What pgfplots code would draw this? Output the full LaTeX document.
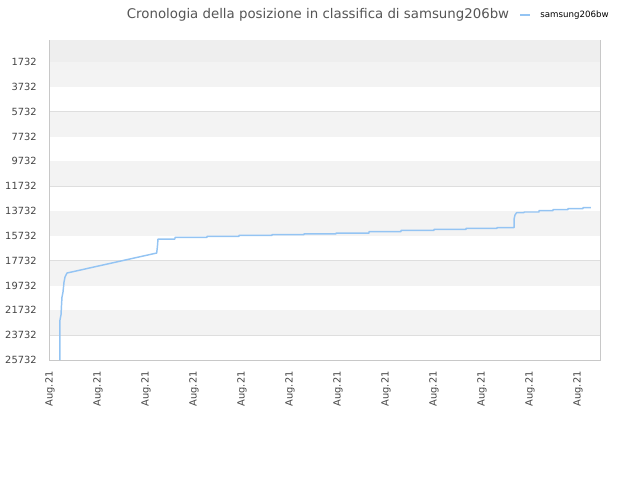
\documentclass[border=0pt]{standalone}
\usepackage{pgfplots}
\pgfplotsset{compat=1.18}
\usepackage{fontspec}
\setmainfont{DejaVu Sans}
\definecolor{linecol}{RGB}{148,196,243}
\definecolor{bandcol}{RGB}{243,243,243}
\definecolor{topband}{RGB}{238,238,238}
\definecolor{gridcol}{RGB}{222,222,222}
\definecolor{ticktext}{RGB}{68,68,68}
\definecolor{titletext}{RGB}{85,85,85}
\begin{document}
\begin{tikzpicture}
  % 1px = 0.75pt; origin = lower left corner of the plot area
  \useasboundingbox (-37.5pt,-90pt) rectangle (442.5pt,270pt);
  \begin{axis}[
    at={(0pt,0pt)}, anchor=south west,
    scale only axis,
    width=412.5pt, height=240pt,
    xmin=0, xmax=11.4583,
    ymin=-40, ymax=25732,
    y dir=reverse,
    ytick={1732,3732,5732,7732,9732,11732,13732,15732,17732,19732,21732,23732,25732},
    xtick={0,1,2,3,4,5,6,7,8,9,10,11},
    xticklabels={Aug.21,Aug.21,Aug.21,Aug.21,Aug.21,Aug.21,Aug.21,Aug.21,Aug.21,Aug.21,Aug.21,Aug.21},
    scaled y ticks=false,
    /pgf/number format/assume math mode=true,
    /pgf/number format/fixed,
    /pgf/number format/1000 sep={},
    major tick length=0pt,
    ymajorgrids=true,
    grid style={draw=gridcol, line width=0.75pt},
    axis line style={draw=gridcol!90!black, line width=0.75pt},
    tick label style={font=\fontsize{7.4pt}{8pt}\selectfont, text=ticktext},
    yticklabel style={xshift=-6.5pt},
    xticklabel style={rotate=90, anchor=east, xshift=-5pt},
  ]
    \fill[topband] (axis cs:0,-40) rectangle (axis cs:11.4583,1732);
    \fill[bandcol] (axis cs:0,1732) rectangle (axis cs:11.4583,3732);
    \fill[bandcol] (axis cs:0,5732) rectangle (axis cs:11.4583,7732);
    \fill[bandcol] (axis cs:0,9732) rectangle (axis cs:11.4583,11732);
    \fill[bandcol] (axis cs:0,13732) rectangle (axis cs:11.4583,15732);
    \fill[bandcol] (axis cs:0,17732) rectangle (axis cs:11.4583,19732);
    \fill[bandcol] (axis cs:0,21732) rectangle (axis cs:11.4583,23732);

    \addplot[color=linecol, line width=1.1pt, line join=round] coordinates {
      (0.208,25732) (0.208,22511) (0.229,22109) (0.24,21303) (0.25,20659)
      (0.271,20256) (0.292,19451) (0.3125,19048) (0.354,18726)
      (2.223,17115) (2.24,16500) (2.25,15988)
      (2.604,15988) (2.604,15851) (3.271,15851) (3.271,15771)
      (3.9375,15771) (3.9375,15690) (4.625,15690) (4.625,15634)
      (5.29,15634) (5.29,15569) (5.958,15569) (5.958,15505)
      (6.646,15505) (6.646,15400) (7.3125,15400) (7.3125,15287)
      (8.0,15287) (8.0,15207) (8.667,15207) (8.667,15126)
      (9.3125,15126) (9.3125,15078) (9.667,15078) (9.667,14401)
      (9.6875,14054) (9.72,13869) (9.875,13869) (9.875,13813)
      (10.1875,13813) (10.1875,13708) (10.479,13708) (10.479,13627)
      (10.79,13627) (10.79,13547) (11.104,13547) (11.104,13467)
      (11.27,13467)
    };
  \end{axis}
  % title and legend
  \node[text=titletext, font=\fontsize{10pt}{12pt}\selectfont, anchor=center]
    at (201pt,258.75pt) {Cronologia della posizione in classifica di samsung206bw};
  \draw[linecol, line width=1.1pt] (352.5pt,258.75pt) -- (360pt,258.75pt);
  \node[text=black, font=\fontsize{6.5pt}{8pt}\selectfont, anchor=west, inner sep=0pt]
    at (367.5pt,258.75pt) {samsung206bw};
\end{tikzpicture}
\end{document}
